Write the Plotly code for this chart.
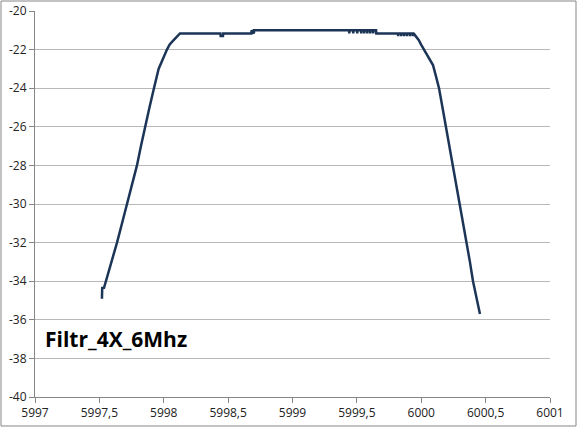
import plotly.graph_objects as go

# frequence (MHz) et niveau (dB)
freq = [
    5997.520, 5997.522, 5997.536, 5997.551, 5997.594, 5997.637, 5997.676,
    5997.715, 5997.754, 5997.792, 5997.823, 5997.854, 5997.889, 5997.924,
    5997.960, 5998.025, 5998.045, 5998.064, 5998.090, 5998.110, 5998.126,
    5998.440, 5998.442, 5998.460, 5998.462, 5998.680, 5998.682, 5998.700, 5998.702,
    5999.439, 5999.441, 5999.443, 5999.470, 5999.472, 5999.474,
    5999.501, 5999.503, 5999.505, 5999.532, 5999.534, 5999.536,
    5999.555, 5999.557, 5999.559, 5999.579, 5999.581, 5999.583,
    5999.602, 5999.604, 5999.606, 5999.625, 5999.627, 5999.629,
    5999.649, 5999.651,
    5999.819, 5999.821, 5999.823, 5999.843, 5999.845, 5999.847,
    5999.866, 5999.868, 5999.870, 5999.889, 5999.891, 5999.893,
    5999.913, 5999.915, 5999.917, 5999.936, 5999.938, 5999.940,
    5999.951, 5999.980, 6000.000, 6000.021, 6000.060, 6000.091, 6000.115,
    6000.138, 6000.165, 6000.192, 6000.220, 6000.247, 6000.274, 6000.301,
    6000.328, 6000.355, 6000.378, 6000.402, 6000.430, 6000.456,
]
niveau = [
    -34.91, -34.35, -34.34, -34.00, -33.00, -32.00, -31.00,
    -30.00, -29.00, -28.00, -27.00, -26.00, -25.00, -24.00,
    -23.00, -22.00, -21.75, -21.60, -21.40, -21.30, -21.16,
    -21.16, -21.30, -21.30, -21.16, -21.16, -21.00, -21.16, -21.00,
    -21.00, -21.16, -21.00, -21.00, -21.16, -21.00,
    -21.00, -21.16, -21.00, -21.00, -21.16, -21.00,
    -21.00, -21.16, -21.00, -21.00, -21.16, -21.00,
    -21.00, -21.16, -21.00, -21.00, -21.16, -21.00,
    -21.00, -21.16,
    -21.16, -21.30, -21.16, -21.16, -21.30, -21.16,
    -21.16, -21.30, -21.16, -21.16, -21.30, -21.16,
    -21.16, -21.30, -21.16, -21.16, -21.30, -21.16,
    -21.25, -21.50, -21.75, -22.00, -22.40, -22.80, -23.40,
    -24.00, -25.00, -26.00, -27.00, -28.00, -29.00, -30.00,
    -31.00, -32.00, -33.00, -34.00, -34.90, -35.70,
]

x_ticks = [5997, 5997.5, 5998, 5998.5, 5999, 5999.5, 6000, 6000.5, 6001]
x_labels = ["5997", "5997,5", "5998", "5998,5", "5999", "5999,5", "6000", "6000,5", "6001"]
y_ticks = [-40, -38, -36, -34, -32, -30, -28, -26, -24, -22, -20]
y_labels = ["-40", "-38", "-36", "-34", "-32", "-30", "-28", "-26", "-24", "-22", "-20"]

titre = "Filtr_4X_6Mhz"

fig = go.Figure()

fig.add_trace(go.Scatter(
    x=freq,
    y=niveau,
    mode="lines",
    line=dict(color="#1C3557", width=2.5),
    showlegend=False,
    hoverinfo="skip",
))

fig.add_annotation(
    x=5997.06, y=-37.0, xref="x", yref="y",
    text="<b>" + titre + "</b>",
    showarrow=False, xanchor="left", yanchor="middle",
    font=dict(family="Open Sans", size=21, color="#000000"),
)

# cadre du graphique (style Excel)
fig.add_shape(
    type="rect", xref="paper", yref="paper",
    x0=-0.066, x1=1.0505, y0=-0.0751, y1=1.0259,
    line=dict(color="#868686", width=1),
    fillcolor="rgba(0,0,0,0)",
)

fig.update_layout(
    width=578,
    height=428,
    margin=dict(l=35, r=28, t=11, b=31),
    paper_bgcolor="white",
    plot_bgcolor="white",
    font=dict(family="Open Sans", size=12, color="#222222"),
    xaxis=dict(
        range=[5997, 6001],
        tickvals=x_ticks,
        ticktext=x_labels,
        showgrid=False,
        zeroline=False,
        showline=True,
        linecolor="#868686",
        linewidth=1,
        ticks="outside",
        ticklen=5,
        tickcolor="#868686",
        automargin=False,
    ),
    yaxis=dict(
        range=[-40, -20],
        tickvals=y_ticks,
        ticktext=y_labels,
        showgrid=True,
        gridcolor="#B8B8B8",
        gridwidth=1,
        zeroline=False,
        showline=True,
        linecolor="#868686",
        linewidth=1,
        ticks="outside",
        ticklen=5,
        tickcolor="#868686",
        automargin=False,
    ),
)

# marge du body à zéro pour que la figure colle au bord de la page
fig.write_html(
    "out.html",
    config={"displayModeBar": False},
    post_script="document.body.style.margin='0';",
)
